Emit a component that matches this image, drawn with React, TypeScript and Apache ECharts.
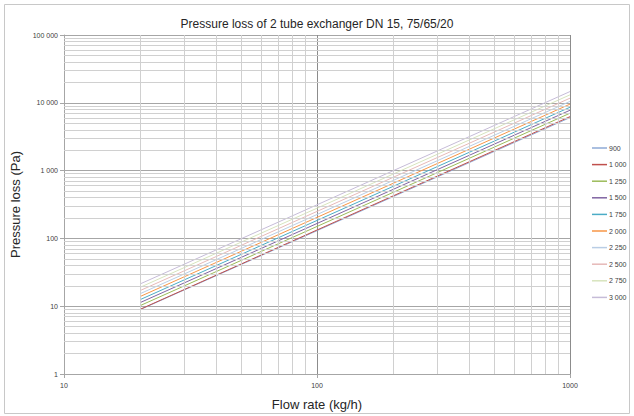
import React, { useEffect, useRef } from "react";
import * as echarts from "echarts";

// Flow rate (kg/h) sample points
const flowRates = [20, 100, 1000];
// Series names (legend)
const seriesNames = ["900", "1 000", "1 250", "1 500", "1 750", "2 000", "2 250", "2 500", "2 750", "3 000"];
// Pressure loss (Pa) at each flow rate, per series
const p900 = [8.9, 130, 6050];
const p1000 = [9.0, 133, 6250];
const p1250 = [10.2, 150, 7020];
const p1500 = [11.3, 166, 7770];
const p1750 = [12.5, 184, 8600];
const p2000 = [13.9, 204, 9560];
const p2250 = [15.3, 225, 10500];
const p2500 = [17.0, 250, 11700];
const p2750 = [19.0, 279, 13100];
const p3000 = [21.3, 313, 14650];
const seriesValues = [p900, p1000, p1250, p1500, p1750, p2000, p2250, p2500, p2750, p3000];
const seriesColors = ["#8eaad6", "#c0504d", "#9bbb59", "#8064a2", "#4bacc6", "#f79646", "#b9cde5", "#e6b9b8", "#d7e4bd", "#c6bcd8"];

// Minor grid values
const xMinor = [20, 30, 40, 50, 60, 70, 80, 90, 200, 300, 400, 500, 600, 700, 800, 900];
const yMinor = [
  2, 3, 4, 5, 6, 7, 8, 9,
  20, 30, 40, 50, 60, 70, 80, 90,
  200, 300, 400, 500, 600, 700, 800, 900,
  2000, 3000, 4000, 5000, 6000, 7000, 8000, 9000,
  20000, 30000, 40000, 50000, 60000, 70000, 80000, 90000,
];

const FONT = "'Liberation Sans', Arial, sans-serif";

function fmt(v: number): string {
  const r = Math.round(v);
  return String(r).replace(/\B(?=(\d{3})+(?!\d))/g, " ");
}

export default function App() {
  const ref = useRef<HTMLDivElement>(null);
  useEffect(() => {
    if (!ref.current) return;
    const chart = echarts.init(ref.current, null, { renderer: "svg" });
    const series: any[] = seriesNames.map((name, i) => ({
      name,
      type: "line",
      data: flowRates.map((f, j) => [f, seriesValues[i][j]]),
      showSymbol: false,
      symbol: "none",
      lineStyle: { width: 1, color: seriesColors[i] },
      itemStyle: { color: seriesColors[i] },
      z: 3,
    }));
    series.unshift({
      name: "grid-minor",
      type: "line",
      data: [],
      z: 1,
      silent: true,
      markLine: {
        silent: true,
        symbol: ["none", "none"],
        label: { show: false },
        lineStyle: { type: "solid", color: "#d0d0d0", width: 1 },
        data: [
          ...xMinor.map((v) => ({ xAxis: v })),
          ...yMinor.map((v) => ({ yAxis: v })),
        ],
      },
    });
    chart.setOption({
      animation: false,
      backgroundColor: "#ffffff",
      title: {
        text: "Pressure loss of 2 tube exchanger DN 15, 75/65/20",
        left: "center",
        top: 13,
        textStyle: { fontFamily: FONT, fontSize: 12, fontWeight: "normal", color: "#262626" },
      },
      graphic: [
        {
          type: "rect",
          shape: { x: 4.5, y: 4.5, width: 625, height: 409 },
          style: { fill: "none", stroke: "#c8c8c8", lineWidth: 1 },
          silent: true,
          z: -1,
        },
      ],
      legend: {
        data: seriesNames,
        orient: "vertical",
        left: 587,
        top: 138,
        padding: [5, 0, 5, 5],
        icon: "rect",
        itemWidth: 15,
        itemHeight: 1.5,
        itemGap: 6.6,
        textStyle: { fontFamily: FONT, fontSize: 7, color: "#404040", lineHeight: 10, padding: [0, 0, 0, -3] },
      },
      grid: { left: 64, top: 35, width: 506, height: 341, containLabel: false, show: false },
      xAxis: {
        type: "log",
        logBase: 10,
        min: 10,
        max: 1000,
        name: "Flow rate (kg/h)",
        nameLocation: "middle",
        nameGap: 24,
        nameTextStyle: { fontFamily: FONT, fontSize: 13, color: "#262626" },
        axisLine: { show: true, lineStyle: { color: "#a6a6a6", width: 1 } },
        axisTick: { show: true, length: 4, lineStyle: { color: "#a6a6a6" } },
        axisLabel: { fontFamily: FONT, fontSize: 7, color: "#404040", margin: 8, formatter: (v: number) => String(Math.round(v)) },
        splitLine: { show: true, lineStyle: { color: "#8c8c8c", width: 1 } },
      },
      yAxis: {
        type: "log",
        logBase: 10,
        min: 1,
        max: 100000,
        name: "Pressure loss (Pa)",
        nameLocation: "middle",
        nameGap: 35,
        nameTextStyle: { fontFamily: FONT, fontSize: 13, color: "#262626" },
        axisLine: { show: true, lineStyle: { color: "#a6a6a6", width: 1 } },
        axisTick: { show: true, length: 4, lineStyle: { color: "#a6a6a6" } },
        axisLabel: { fontFamily: FONT, fontSize: 7, color: "#404040", margin: 6, formatter: (v: number) => fmt(v) },
        splitLine: { show: true, lineStyle: { color: "#a6a6a6", width: 1 } },
      },
      series,
    });
    return () => chart.dispose();
  }, []);
  return (
    <div
      ref={ref}
      style={{ position: "fixed", left: 0, top: 0, width: 634, height: 416, background: "#fff" }}
    />
  );
}
